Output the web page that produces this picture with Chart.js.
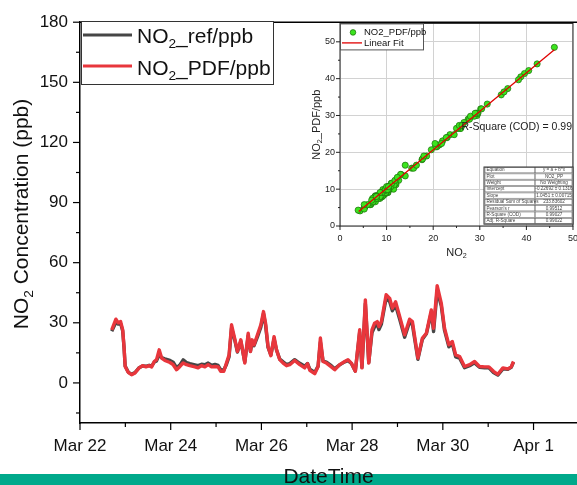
<!DOCTYPE html>
<html>
<head>
<meta charset="utf-8">
<script src="https://cdn.jsdelivr.net/npm/chart.js@4.4.0/dist/chart.umd.min.js"></script>
<style>
html, body { margin: 0; padding: 0; background: #fff; }
#wrap { position: relative; width: 577px; height: 485px; overflow: hidden; }
#main { position: absolute; left: 0; top: 0; }
#inset { position: absolute; left: 300px; top: 13px; }
</style>
</head>
<body>
<div id="wrap">
  <canvas id="main" width="577" height="485"></canvas>
  <canvas id="inset" width="285" height="252"></canvas>
</div>
<script>
// hours since Mar 22 00:00
const hours = [16.8, 19.0, 20.2, 21.5, 22.6, 23.3, 23.9, 25.5, 27.3, 29.1, 31.3, 33.1, 34.9, 36.6, 37.9, 39.3,
    40.5, 41.9, 43.2, 44.9, 47.6, 49.3, 51.1, 52.9, 54.6, 56.4, 58.1, 60.8, 62.5, 64.3, 66.1, 67.8, 69.6, 71.4,
    73.1, 74.4, 76.1, 77.5, 78.9, 80.2, 81.9, 83.3, 85.1, 87.2, 89.0, 90.2, 91.1, 92.1, 93.9, 95.7, 97.1, 98.2,
    99.5, 101.0, 102.7, 104.0, 105.7, 107.5, 109.3, 111.0, 113.6, 116.3, 118.9, 120.4, 121.6, 124.2, 126.0,
    127.2, 128.6, 130.4, 133.0, 134.8, 137.4, 140.1, 141.8, 143.6, 145.7, 148.0, 149.2, 151.0, 152.8, 154.5,
    155.9, 157.3, 158.2, 159.5, 162.0, 163.9, 165.3, 167.0, 169.2, 171.8, 174.4, 175.9, 178.8, 181.2, 183.3,
    185.9, 187.1, 189.0, 191.2, 192.9, 195.2, 197.0, 198.8, 200.9, 203.5, 206.2, 208.8, 211.4, 214.1, 216.4,
    218.8, 221.1, 223.8, 226.4, 228.2, 229.4];

const no2Pdf = [26.5, 31.8, 30.0, 30.6, 26.5, 18.0, 8.2, 5.3, 4.1, 5.0, 7.5, 8.6, 8.0, 8.6, 8.0, 10.7,
    11.6, 16.5, 12.4, 11.2, 10.2, 9.1, 6.6, 8.2, 10.0, 9.1, 8.6, 8.0, 7.5, 8.6, 8.0, 9.1, 8.0, 8.2,
    8.0, 5.8, 5.8, 9.9, 14.0, 29.0, 22.0, 15.7, 21.5, 9.9, 24.8, 15.7, 21.5, 19.0, 24.0, 29.0, 35.6, 29.8,
    18.2, 13.6, 23.1, 16.5, 11.6, 9.9, 8.6, 9.1, 11.2, 9.1, 7.5, 9.6, 6.3, 4.6, 8.2,
    22.4, 10.7, 9.9, 8.0, 6.6, 9.1, 10.7, 11.6, 9.9, 5.8, 26.5, 7.5, 41.4, 9.9, 26.5,
    29.8, 30.6, 28.1, 30.6, 44.0, 42.2, 37.3, 40.5, 33.1, 24.0, 31.8, 30.6, 12.4, 22.4, 24.8,
    36.4, 27.3, 48.5, 39.7, 27.3, 19.0, 20.7, 14.0, 13.2, 8.2, 9.1, 10.7, 8.2, 8.0, 8.0,
    5.8, 4.3, 7.5, 7.0, 8.0, 10.7];

const no2Ref = [25.8, 30.2, 29.4, 29.6, 25.9, 17.6, 8.4, 5.4, 4.3, 5.2, 7.6, 8.5, 8.3, 8.8, 8.4, 10.4,
    11.0, 14.0, 12.6, 12.0, 11.2, 10.3, 7.6, 9.0, 11.5, 10.2, 9.6, 9.0, 8.6, 9.3, 9.1, 9.9, 8.8, 9.2,
    8.7, 6.6, 6.4, 9.2, 13.1, 27.5, 21.3, 15.4, 20.8, 10.4, 23.6, 15.8, 20.5, 18.6, 23.0, 27.8, 34.6, 28.8,
    17.7, 14.0, 22.0, 16.4, 11.9, 10.5, 9.2, 9.6, 11.6, 9.8, 8.3, 9.7, 6.9, 5.2, 8.4,
    20.4, 10.9, 10.4, 8.6, 7.1, 9.0, 10.5, 11.1, 9.7, 5.9, 25.3, 7.8, 39.6, 10.2, 25.0,
    28.0, 29.2, 26.6, 29.4, 42.3, 40.5, 36.0, 38.8, 31.6, 22.8, 30.4, 29.0, 11.8, 21.8, 24.5,
    35.2, 25.6, 46.0, 38.3, 26.2, 18.0, 19.6, 13.0, 12.3, 7.6, 8.6, 10.0, 7.8, 7.6, 7.5,
    5.2, 3.9, 7.0, 6.8, 7.8, 10.4];

const dateTickHours = [0, 48, 96, 144, 192, 240];
const dateTickLabels = ['Mar 22', 'Mar 24', 'Mar 26', 'Mar 28', 'Mar 30', 'Apr 1'];
const concTicks = [0, 30, 60, 90, 120, 150, 180];

const insetXTicks = [0, 10, 20, 30, 40, 50];
const insetYTicks = [0, 10, 20, 30, 40, 50];
const fitIntercept = -0.22692;
const fitSlope = 1.0451;
const fitRange = [4, 46];
const rSquareText = 'R-Square (COD) = 0.99';
const fitTable = [
    ['Equation', 'y = a + b*x'],
    ['Plot', 'NO2_PP'],
    ['Weight', 'No Weighting'],
    ['Intercept', '-0.22692 \u00b1 0.1316'],
    ['Slope', '1.0451 \u00b1 0.00715'],
    ['Residual Sum of Squares', '233.83602'],
    ["Pearson's r", '0.99512'],
    ['R-Square (COD)', '0.99027'],
    ['Adj. R-Square', '0.99022']
];

const FONT = "'Liberation Sans', Arial, sans-serif";
const REF_COLOR = '#464646';
const PDF_COLOR = '#e8363c';

// text like NO + subscript 2 + rest
function chemWidth(ctx, parts, size) {
    let w = 0;
    parts.forEach(p => {
        ctx.font = (p[1] ? size * 0.65 : size) + 'px ' + FONT;
        w += ctx.measureText(p[0]).width;
    });
    return w;
}
function drawChem(ctx, parts, x, y, size) {
    let cx = x;
    parts.forEach(p => {
        ctx.font = (p[1] ? size * 0.65 : size) + 'px ' + FONT;
        ctx.fillText(p[0], cx, p[1] ? y + size * 0.22 : y);
        cx += ctx.measureText(p[0]).width;
    });
}
function seg(ctx, x1, y1, x2, y2) {
    ctx.beginPath();
    ctx.moveTo(x1, y1);
    ctx.lineTo(x2, y2);
    ctx.stroke();
}

const mainDecor = {
    id: 'mainDecor',
    afterDraw(chart) {
        const ctx = chart.ctx, a = chart.chartArea;
        const xs = chart.scales.x, ys = chart.scales.y;
        ctx.save();
        ctx.strokeStyle = '#000';
        ctx.lineWidth = 1.5;
        seg(ctx, a.left, a.top, a.right, a.top);

        ctx.lineWidth = 1.2;
        for (let v = -15; v <= 180; v += 15) {
            const py = ys.getPixelForValue(v);
            const len = v % 30 === 0 ? 7 : 4;
            seg(ctx, a.left - len, py, a.left, py);
        }
        for (let h = 0; h <= 263; h += 24) {
            const px = xs.getPixelForValue(h);
            const len = h % 48 === 0 ? 7 : 4;
            seg(ctx, px, a.bottom, px, a.bottom + len);
        }

        // legend
        ctx.lineWidth = 1;
        ctx.strokeStyle = '#333';
        ctx.fillStyle = '#fff';
        ctx.fillRect(81.5, 21.5, 192, 63);
        ctx.strokeRect(81.5, 21.5, 192, 63);
        ctx.lineWidth = 3;
        ctx.strokeStyle = REF_COLOR;
        seg(ctx, 83, 35, 132, 35);
        ctx.strokeStyle = PDF_COLOR;
        seg(ctx, 83, 66, 132, 66);
        ctx.fillStyle = '#111';
        ctx.textBaseline = 'alphabetic';
        ctx.textAlign = 'left';
        drawChem(ctx, [['NO', 0], ['2', 1], ['_ref/ppb', 0]], 137, 43, 21);
        drawChem(ctx, [['NO', 0], ['2', 1], ['_PDF/ppb', 0]], 137, 75, 21);

        // y title
        const yParts = [['NO', 0], ['2', 1], [' Concentration (ppb)', 0]];
        const yw = chemWidth(ctx, yParts, 21);
        ctx.save();
        ctx.translate(28, 214);
        ctx.rotate(-Math.PI / 2);
        drawChem(ctx, yParts, -yw / 2, 0, 21);
        ctx.restore();

        // bottom band and x title
        ctx.fillStyle = '#00a98b';
        ctx.fillRect(0, 474, 577, 11);
        ctx.fillStyle = '#111';
        ctx.font = '21px ' + FONT;
        ctx.textAlign = 'center';
        ctx.fillText('DateTime', (a.left + a.right) / 2, 483);
        ctx.restore();
    }
};

new Chart(document.getElementById('main'), {
    type: 'line',
    data: {
        datasets: [
            {
                label: 'NO2_ref/ppb',
                data: hours.map((h, i) => ({ x: h, y: no2Ref[i] })),
                borderColor: REF_COLOR,
                borderWidth: 3.4,
                pointRadius: 0,
                tension: 0,
                borderJoinStyle: 'round',
                order: 1
            },
            {
                label: 'NO2_PDF/ppb',
                data: hours.map((h, i) => ({ x: h, y: no2Pdf[i] })),
                borderColor: PDF_COLOR,
                borderWidth: 3.4,
                pointRadius: 0,
                tension: 0,
                borderJoinStyle: 'round',
                order: 0
            }
        ]
    },
    options: {
        responsive: false,
        animation: false,
        devicePixelRatio: 1,
        layout: { padding: { top: 20, right: 0, left: 0, bottom: 0 } },
        plugins: { legend: { display: false }, tooltip: { enabled: false } },
        scales: {
            x: {
                type: 'linear',
                min: 0,
                max: 263,
                afterBuildTicks: s => { s.ticks = dateTickHours.map(v => ({ value: v })); },
                afterFit: s => { s.height = 62; },
                grid: { display: false, drawTicks: false },
                border: { display: true, color: '#000', width: 1.5 },
                ticks: {
                    autoSkip: false,
                    maxRotation: 0,
                    padding: 13,
                    color: '#111',
                    font: { family: FONT, size: 17 },
                    callback: (v, i) => dateTickLabels[i]
                }
            },
            y: {
                min: -20,
                max: 180,
                afterBuildTicks: s => { s.ticks = concTicks.map(v => ({ value: v })); },
                afterFit: s => { s.width = 80; },
                grid: { display: false, drawTicks: false },
                border: { display: true, color: '#000', width: 1.5 },
                ticks: {
                    padding: 12,
                    color: '#111',
                    font: { family: FONT, size: 17 }
                }
            }
        }
    },
    plugins: [mainDecor]
});

const insetDecor = {
    id: 'insetDecor',
    afterDraw(chart) {
        const ctx = chart.ctx, a = chart.chartArea;
        const xs = chart.scales.x, ys = chart.scales.y;
        ctx.save();
        ctx.strokeStyle = '#222';
        ctx.lineWidth = 1;
        ctx.strokeRect(a.left, a.top, a.right - a.left, a.bottom - a.top);
        for (let v = 0; v <= 50; v += 5) {
            const px = xs.getPixelForValue(v);
            seg(ctx, px, a.bottom, px, a.bottom + (v % 10 === 0 ? 4 : 2));
            const py = ys.getPixelForValue(v);
            seg(ctx, a.left - (v % 10 === 0 ? 4 : 2), py, a.left, py);
        }

        // legend
        ctx.fillStyle = '#fff';
        ctx.fillRect(a.left + 0.5, a.top + 0.5, 83, 26);
        ctx.strokeStyle = '#555';
        ctx.strokeRect(a.left + 0.5, a.top + 0.5, 83, 26);
        ctx.beginPath();
        ctx.arc(a.left + 13, a.top + 9, 2.8, 0, Math.PI * 2);
        ctx.fillStyle = '#3be41e';
        ctx.fill();
        ctx.strokeStyle = '#1a6b0a';
        ctx.lineWidth = 0.7;
        ctx.stroke();
        ctx.strokeStyle = '#e00000';
        ctx.lineWidth = 1.3;
        seg(ctx, a.left + 2, a.top + 19.5, a.left + 22, a.top + 19.5);
        ctx.fillStyle = '#111';
        ctx.font = '9.5px ' + FONT;
        ctx.textBaseline = 'middle';
        ctx.textAlign = 'left';
        ctx.fillText('NO2_PDF/ppb', a.left + 24, a.top + 9);
        ctx.fillText('Linear Fit', a.left + 24, a.top + 20);

        // R-square note
        ctx.font = '10.5px ' + FONT;
        ctx.fillStyle = '#222';
        ctx.textAlign = 'right';
        ctx.fillText(rSquareText, a.right - 1, a.top + 104);

        // fit table
        const tw = 89, rh = 6.35, cw = 51;
        const tx = a.right - tw, ty = a.bottom - 59;
        ctx.fillStyle = '#fff';
        ctx.fillRect(tx, ty, tw, rh * fitTable.length);
        ctx.strokeStyle = '#666';
        ctx.lineWidth = 0.6;
        ctx.font = '4.6px ' + FONT;
        fitTable.forEach((row, i) => {
            const ry = ty + i * rh;
            ctx.strokeRect(tx + 1, ry + 0.5, cw - 1, rh - 1);
            ctx.strokeRect(tx + cw, ry + 0.5, tw - cw - 1, rh - 1);
            ctx.fillStyle = '#444';
            ctx.textAlign = 'left';
            ctx.fillText(row[0], tx + 2.5, ry + rh / 2);
            ctx.textAlign = 'center';
            ctx.fillText(row[1], tx + cw + (tw - cw) / 2, ry + rh / 2);
        });
        ctx.strokeStyle = '#333';
        ctx.lineWidth = 1;
        ctx.strokeRect(tx, ty, tw, rh * fitTable.length);

        // titles
        ctx.fillStyle = '#222';
        ctx.textBaseline = 'alphabetic';
        ctx.textAlign = 'left';
        const xParts = [['NO', 0], ['2', 1]];
        const xw = chemWidth(ctx, xParts, 11);
        drawChem(ctx, xParts, (a.left + a.right) / 2 - xw / 2, a.bottom + 30, 11);
        const yParts = [['NO', 0], ['2', 1], ['_PDF/ppb', 0]];
        const yw = chemWidth(ctx, yParts, 11);
        ctx.save();
        ctx.translate(a.left - 20, (a.top + a.bottom) / 2);
        ctx.rotate(-Math.PI / 2);
        drawChem(ctx, yParts, -yw / 2, 0, 11);
        ctx.restore();
        ctx.restore();
    }
};

new Chart(document.getElementById('inset'), {
    type: 'scatter',
    data: {
        datasets: [
            {
                label: 'Linear Fit',
                type: 'line',
                data: fitRange.map(v => ({ x: v, y: fitIntercept + fitSlope * v })),
                borderColor: '#e00000',
                borderWidth: 1.3,
                pointRadius: 0,
                order: 0
            },
            {
                label: 'NO2_PDF/ppb',
                data: no2Ref.map((r, i) => ({ x: r, y: no2Pdf[i] })),
                backgroundColor: '#3be41e',
                borderColor: '#1a6b0a',
                borderWidth: 0.7,
                pointRadius: 3.1,
                order: 1
            }
        ]
    },
    options: {
        responsive: false,
        animation: false,
        devicePixelRatio: 1,
        layout: { padding: { top: 4, right: 4, left: 0, bottom: 0 } },
        plugins: { legend: { display: false }, tooltip: { enabled: false } },
        scales: {
            x: {
                type: 'linear',
                min: 0,
                max: 50,
                afterBuildTicks: s => { s.ticks = insetXTicks.map(v => ({ value: v })); },
                afterFit: s => { s.height = 39; },
                grid: { color: '#d2d2d2', drawTicks: false, lineWidth: 1 },
                border: { display: false },
                ticks: { padding: 7, maxRotation: 0, color: '#222', font: { family: FONT, size: 9 } }
            },
            y: {
                min: 0,
                max: 55,
                afterBuildTicks: s => { s.ticks = insetYTicks.map(v => ({ value: v })); },
                afterFit: s => { s.width = 40; },
                grid: { color: '#d2d2d2', drawTicks: false, lineWidth: 1 },
                border: { display: false },
                ticks: { padding: 5, color: '#222', font: { family: FONT, size: 9 } }
            }
        }
    },
    plugins: [insetDecor]
});
</script>
</body>
</html>
